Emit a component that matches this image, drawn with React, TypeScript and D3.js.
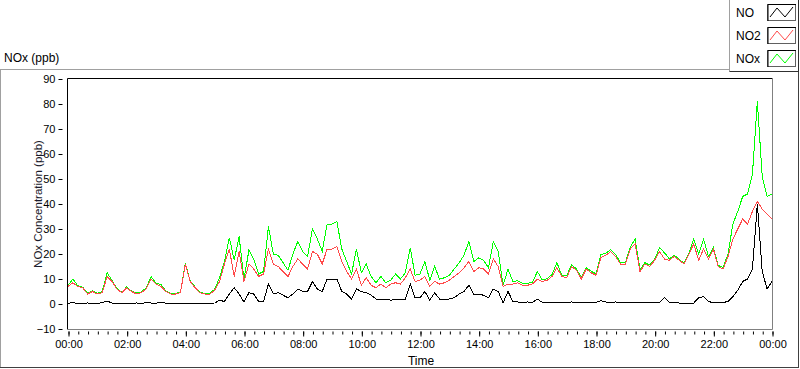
import React, { useEffect, useRef } from 'react';
import * as d3 from 'd3';

// values every 10 minutes, 00:00 -> 24:00 (145 points)
const no2 = [
  7, 8.5, 7, 6.5, 4, 5,
  4, 4.5, 11, 9, 6, 4.5,
  6.5, 5, 4, 4.5, 6, 10,
  8, 7, 5, 4, 4, 4.5,
  16, 9, 6.5, 4.5, 4, 4,
  5.5, 9, 16, 22, 11, 21,
  9, 16, 14, 11, 12, 22,
  16, 15, 13, 11, 15, 18,
  16, 14, 21, 20, 16, 22,
  22, 23, 17, 13, 10, 14,
  7.5, 10.5, 7.5, 6.5, 8, 6.5,
  8, 8.5, 8, 10.5, 14, 9,
  9.5, 11, 7, 9, 8, 8.5,
  9.5, 11, 12.5, 14.5, 17, 13,
  14.5, 14, 12, 18, 15, 7,
  8, 8, 8.5, 7.5, 7.5, 8,
  10, 9, 9.5, 11, 14.5, 11,
  10.5, 15, 13.5, 10, 14, 12.5,
  11.5, 18.5, 19.5, 21, 19, 16,
  16, 22, 24, 13, 16, 15,
  17.5, 21, 18, 17.5, 19, 17.5,
  16, 20, 24, 17.5, 22, 18,
  22, 15, 14, 19, 26, 30,
  34, 32, 37, 41, 38, 36,
  34,
];

const no = [
  0.3, 0.5, 0.3, 0.2, 0.4, 0.3,
  0.3, 0.5, 1.2, 0.4, 0.3, 0.2,
  0.3, 0.2, 0.4, 0.3, 0.5, 0.4,
  0.3, 0.8, 0.3, 0.2, 0.3, 0.2,
  0.3, 0.2, 0.3, 0.2, 0.2, 0.3,
  0.4, 1.5, 1, 4, 6.5, 4,
  0.8, 4.5, 4, 1, 1, 8,
  4, 4.5, 3.5, 2.5, 4, 6,
  5, 5, 9, 6, 5, 10,
  10, 10, 5, 4, 2, 6,
  5, 4.5, 3.5, 2, 2, 2,
  1.5, 2, 2, 2, 8, 2.5,
  2.5, 5, 1.5, 4.5, 2, 2,
  2, 2.5, 4, 5, 7.5, 4,
  4, 3.5, 2.5, 6, 5, 0.5,
  5, 1, 0.8, 0.7, 0.8, 0.6,
  2, 0.7, 0.6, 0.8, 0.7, 0.6,
  0.7, 0.8, 0.5, 0.7, 0.5, 0.6,
  0.6, 1.3, 0.8, 0.7, 0.8, 0.6,
  0.5, 0.6, 0.5, 0.7, 0.5, 0.6,
  0.5, 0.6, 2.5, 0.6, 0.5, 0.4,
  0.3, 0.3, 0.4, 2.5, 3, 1,
  0.5, 0.4, 0.6, 1, 3, 5.5,
  9, 10, 14, 40, 13, 6,
  9,
];

const nox = [
  7.3, 10, 7.3, 6.7, 4.4, 5.3,
  4.3, 5, 12.5, 9.4, 6.3, 4.7,
  6.8, 5.2, 4.4, 4.8, 6.5, 11,
  8.3, 7.8, 5.3, 4.2, 4.3, 4.7,
  16.3, 9.2, 6.8, 4.7, 4.2, 4.3,
  5.9, 10.5, 17, 26.5, 17.5, 27,
  9.8, 21.5, 18, 12, 13, 31,
  20, 19.5, 16.5, 13.5, 20, 25,
  21, 19, 30, 26, 21, 32,
  32, 33, 22, 17, 12, 22,
  12.5, 16, 11, 8.5, 11, 8.5,
  9.5, 12, 10, 12.5, 22.5, 11.5,
  12, 17, 9.5, 15, 10, 10.5,
  11.5, 14, 16.5, 19.5, 25, 17,
  18.5, 17.5, 14.5, 25, 21, 7.5,
  14, 9, 9.3, 8.2, 8.3, 8.6,
  13, 9.7, 10.1, 11.8, 16.5, 11.6,
  11.2, 15.8, 14, 10.7, 14.5, 13.1,
  12.1, 19.8, 20.3, 21.7, 19.8, 16.6,
  16.5, 22.6, 26, 13.7, 16.5, 15.6,
  18, 22.5, 20.5, 18.1, 19.5, 17.9,
  16.3, 20.3, 26, 20, 26, 19,
  22.5, 15.4, 14.6, 20, 32, 37,
  43, 44, 52, 81, 51, 43,
  44,
];

const hours = no2.map((_, i) => i / 6);
const yTicks = [-10, 0, 10, 20, 30, 40, 50, 60, 70, 80, 90];
const xTicks = [0, 2, 4, 6, 8, 10, 12, 14, 16, 18, 20, 22, 24];

const series = [
  { name: 'NOx', values: nox, color: '#00ff00' },
  { name: 'NO2', values: no2, color: '#ff4a4a' },
  { name: 'NO', values: no, color: '#000000' },
];

const font = '"Liberation Sans", Arial, sans-serif';

const App = () => {
  const svgRef = useRef(null);

  useEffect(() => {
    const width = 800;
    const height = 369;
    const pl = { left: 68, right: 772, top: 79, bottom: 329 };

    const svg = d3.select(svgRef.current);
    svg.selectAll('*').remove();

    svg.append('rect').attr('width', width).attr('height', height).attr('fill', '#fff');

    // panel frame
    const line = (x1, y1, x2, y2, c) =>
      svg.append('line')
        .attr('x1', x1).attr('y1', y1).attr('x2', x2).attr('y2', y2)
        .attr('stroke', c).attr('stroke-width', 1);
    line(0, 69.5, 730, 69.5, '#a0a0a0');
    line(0.5, 69.5, 0.5, 368, '#a0a0a0');
    line(0, 367.5, 799, 367.5, '#404040');
    line(798.5, 71, 798.5, 368, '#404040');

    svg.append('text')
      .attr('x', 4).attr('y', 62)
      .attr('font-family', font).attr('font-size', 12)
      .text('NOx (ppb)');

    const xScale = d3.scaleLinear().domain([0, 24]).range([pl.left, pl.right]);
    const yScale = d3.scaleLinear().domain([-10, 90]).range([pl.bottom, pl.top]);

    // data
    svg.append('clipPath').attr('id', 'plot-clip')
      .append('rect')
      .attr('x', pl.left).attr('y', pl.top)
      .attr('width', pl.right - pl.left).attr('height', pl.bottom - pl.top);

    const path = d3.line<number>()
      .x((d, i) => xScale(hours[i]))
      .y(d => yScale(d));

    const g = svg.append('g').attr('clip-path', 'url(#plot-clip)');
    series.forEach(s => {
      g.append('path')
        .attr('d', path(s.values))
        .attr('fill', 'none')
        .attr('stroke', s.color)
        .attr('stroke-width', 1)
        .attr('shape-rendering', 'crispEdges');
    });

    // plot frame: dark top/left, grey bottom/right
    line(pl.left - 0.5, pl.top - 0.5, pl.right + 0.5, pl.top - 0.5, '#000');
    line(pl.left - 0.5, pl.top - 0.5, pl.left - 0.5, pl.bottom + 0.5, '#000');
    line(pl.right + 0.5, pl.top - 0.5, pl.right + 0.5, pl.bottom + 0.5, '#808080');
    line(pl.left - 0.5, pl.bottom + 0.5, pl.right + 0.5, pl.bottom + 0.5, '#808080');

    // y axis
    const yAxis = svg.append('g')
      .attr('transform', 'translate(62.5,0)')
      .call(d3.axisLeft(yScale).tickValues(yTicks).tickSize(4).tickPadding(3));
    yAxis.select('.domain').remove();
    yAxis.selectAll('text').attr('font-family', font).attr('font-size', 11).attr('fill', '#000');
    yAxis.selectAll('line').attr('stroke', '#000');

    // x axis, minor then major ticks
    const xMinor = svg.append('g')
      .attr('transform', 'translate(0.5,331.5)')
      .call(d3.axisBottom(xScale).tickValues(d3.range(0, 73).map(i => i / 3)).tickSize(3).tickFormat(() => ''));
    xMinor.select('.domain').remove();
    xMinor.selectAll('line').attr('stroke', '#000');

    const xAxis = svg.append('g')
      .attr('transform', 'translate(0.5,331.5)')
      .call(d3.axisBottom(xScale).tickValues(xTicks).tickSize(5).tickPadding(4)
        .tickFormat(h => String(Number(h) % 24).padStart(2, '0') + ':00'));
    xAxis.select('.domain').remove();
    xAxis.selectAll('text').attr('font-family', font).attr('font-size', 11).attr('fill', '#000');
    xAxis.selectAll('line').attr('stroke', '#000');

    // axis titles
    svg.append('text')
      .attr('x', 421).attr('y', 365)
      .attr('text-anchor', 'middle')
      .attr('font-family', font).attr('font-size', 12)
      .text('Time');

    svg.append('text')
      .attr('transform', 'translate(42,204) rotate(-90)')
      .attr('text-anchor', 'middle')
      .attr('font-family', font).attr('font-size', 11.5)
      .attr('fill', '#1a1a2a')
      .text('NOx Concentration (ppb)');

    // legend
    const lg = svg.append('g');
    lg.append('line').attr('x1', 729.5).attr('y1', 0).attr('x2', 729.5).attr('y2', 71.5).attr('stroke', '#a0a0a0');
    lg.append('line').attr('x1', 729.5).attr('y1', 71.5).attr('x2', 799).attr('y2', 71.5).attr('stroke', '#303030');
    lg.append('line').attr('x1', 798.5).attr('y1', 0).attr('x2', 798.5).attr('y2', 71.5).attr('stroke', '#303030');

    const legendItems = [
      { name: 'NO', color: '#000000' },
      { name: 'NO2', color: '#ff4a4a' },
      { name: 'NOx', color: '#00ff00' },
    ];
    legendItems.forEach((s, i) => {
      const top = 4 + i * 23;
      lg.append('text')
        .attr('x', 736).attr('y', top + 13)
        .attr('font-family', font).attr('font-size', 12)
        .text(s.name);
      lg.append('rect')
        .attr('x', 767.5).attr('y', top + 0.5)
        .attr('width', 28).attr('height', 16)
        .attr('fill', '#fff').attr('stroke', '#606060');
      lg.append('path')
        .attr('d', `M${768} ${top + 0.5}H${796}M${768} ${top + 0.5}V${top + 17}`)
        .attr('stroke', '#000');
      lg.append('path')
        .attr('d', `M770 ${top + 13}L777 ${top + 4}L785 ${top + 13}L793 ${top + 3}`)
        .attr('fill', 'none')
        .attr('stroke', s.color);
    });
  }, []);

  return (
    <div style={{ position: 'absolute', left: 0, top: 0 }}>
      <svg ref={svgRef} width={800} height={369}></svg>
    </div>
  );
};

export default App;
